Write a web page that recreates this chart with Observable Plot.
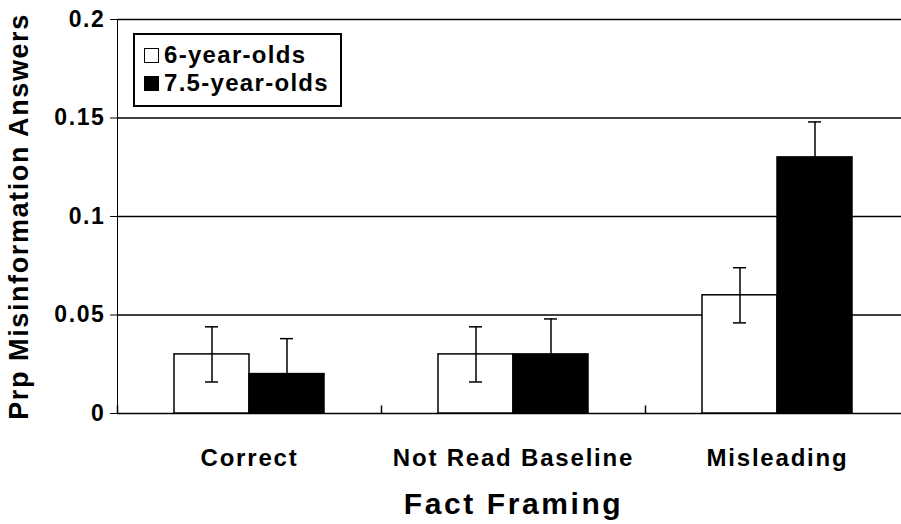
<!DOCTYPE html>
<html>
<head>
<meta charset="utf-8">
<script src="https://cdn.jsdelivr.net/npm/d3@7"></script>
<script src="https://cdn.jsdelivr.net/npm/@observablehq/plot@0.6"></script>
<style>
  html, body { margin: 0; padding: 0; background: white; overflow: hidden; }
  #wrap { position: relative; width: 901px; height: 524px; overflow: hidden; }
  #wrap svg { font-family: "Liberation Sans", Arial, sans-serif; font-weight: bold; }
  [aria-label="y-axis"] text, [aria-label="y-axis tick label"] text { font-size: 23px; letter-spacing: 1.6px; }
  [aria-label="y-axis"] > text, [aria-label="y-axis label"] text { font-size: 27px; letter-spacing: 1.6px; }
  [aria-label="fx-axis"] text, [aria-label="fx-axis tick label"] text { font-size: 24px; letter-spacing: 1.8px; }
  [aria-label="fx-axis"] > text, [aria-label="fx-axis label"] text { font-size: 30px; letter-spacing: 2.6px; }
  .legend { position: absolute; left: 133px; top: 33px; width: 205px; height: 70px; border: 2px solid black; background: white;
            font-family: "Liberation Sans", Arial, sans-serif; font-weight: bold; font-size: 24px; letter-spacing: 1.3px; }
  .legend .item { position: absolute; left: 9px; height: 28px; display: flex; align-items: center; }
  .legend .sw { width: 13px; height: 13px; border: 1.5px solid black; margin-right: 5px; }
</style>
</head>
<body>
<div id="wrap"></div>
<script>
const categories = ["Correct", "Not Read Baseline", "Misleading"];
const groups = ["6-year-olds", "7.5-year-olds"];
const groupColors = ["white", "black"];
const values6 = [0.03, 0.03, 0.06];
const values75 = [0.02, 0.03, 0.13];
const err6 = [0.014, 0.014, 0.014];
const err75 = [0.018, 0.018, 0.018];
const yTicks = [0, 0.05, 0.1, 0.15, 0.2];
const gridLines = [0.05, 0.1, 0.15, 0.2];

const rows = categories.flatMap((c, i) => [
  {cat: c, group: groups[0], value: values6[i], err: err6[i]},
  {cat: c, group: groups[1], value: values75[i], err: err75[i]}
]);

const tickSymbol = {draw(ctx) { ctx.moveTo(0, 0); ctx.lineTo(0, -8); }};

const chart = Plot.plot({
  width: 910,
  height: 524,
  marginLeft: 117,
  marginRight: 1,
  marginTop: 19,
  marginBottom: 111,
  style: {maxWidth: "none", background: "white", overflow: "visible"},
  facet: {data: rows, x: "cat"},
  fx: {domain: categories, padding: 0, axis: "bottom", tickSize: 0, tickPadding: 35,
       label: "Fact Framing", labelAnchor: "center", labelOffset: 100},
  x: {domain: groups, paddingInner: 0, paddingOuter: 0.748, axis: null},
  y: {domain: [0, 0.2], ticks: yTicks, tickFormat: d => String(d), tickSize: 7, tickPadding: 5,
      line: true, label: "Prp Misinformation Answers", labelArrow: "none", labelAnchor: "center", labelOffset: 109},
  color: {domain: groups, range: groupColors},
  marks: [
    Plot.ruleY(gridLines, {stroke: "black", strokeWidth: 1.5}),
    Plot.ruleY([0], {stroke: "black", strokeWidth: 1.5}),
    Plot.dot([null], {frameAnchor: "bottom-left", symbol: tickSymbol, stroke: "black", strokeWidth: 1.5, fill: "none"}),
    Plot.barY(rows, {x: "group", y: "value", fill: "group", stroke: "black", strokeWidth: 1.5}),
    Plot.ruleX(rows, {x: "group", y1: d => d.value - d.err, y2: d => d.value + d.err, stroke: "black", strokeWidth: 1.5}),
    Plot.tickY(rows, {x: "group", y: d => d.value + d.err, stroke: "black", strokeWidth: 1.5, insetLeft: 31, insetRight: 31}),
    Plot.tickY(rows, {x: "group", y: d => d.value - d.err, stroke: "black", strokeWidth: 1.5, insetLeft: 31, insetRight: 31})
  ]
});

const wrap = document.getElementById("wrap");
wrap.appendChild(chart);

const legend = document.createElement("div");
legend.className = "legend";
groups.forEach((g, i) => {
  const item = document.createElement("div");
  item.className = "item";
  item.style.top = (6 + i * 28) + "px";
  const sw = document.createElement("span");
  sw.className = "sw";
  sw.style.background = groupColors[i];
  const t = document.createElement("span");
  t.textContent = g;
  item.appendChild(sw);
  item.appendChild(t);
  legend.appendChild(item);
});
wrap.appendChild(legend);
</script>
</body>
</html>
